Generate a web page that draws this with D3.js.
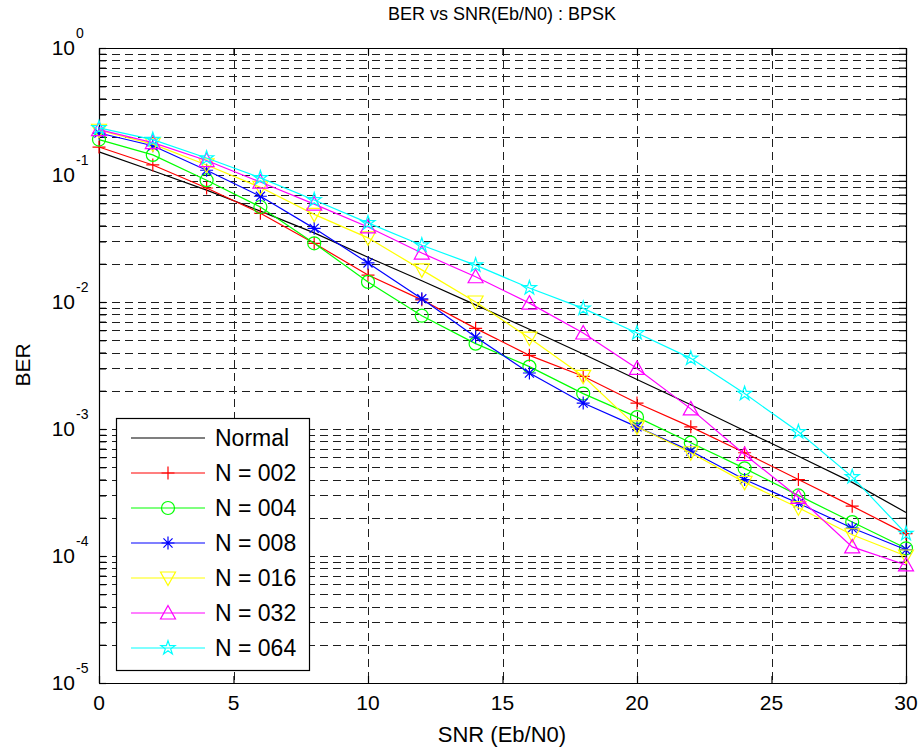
<!DOCTYPE html>
<html>
<head>
<meta charset="utf-8">
<script src="https://cdn.jsdelivr.net/npm/d3@7"></script>
<style>
  body { margin: 0; background: #fff; }
  svg { display: block; font-family: "Liberation Sans", Arial, sans-serif; }
</style>
</head>
<body>
<svg id="chart" width="920" height="748"></svg>
<script>
// values
const snr = [0, 2, 4, 6, 8, 10, 12, 14, 16, 18, 20, 22, 24, 26, 28, 30];
const berNormal = [0.152, 0.108, 0.076, 0.052, 0.035, 0.0225, 0.0147, 0.0095, 0.0061, 0.0039, 0.00245, 0.00155, 0.00097, 0.00061, 0.00038, 0.00022];
const berN002 = [0.166, 0.12, 0.079, 0.05, 0.029, 0.0163, 0.0104, 0.0062, 0.0038, 0.0026, 0.0016, 0.00104, 0.00065, 0.0004, 0.000247, 0.00015];
const berN004 = [0.19, 0.144, 0.091, 0.056, 0.029, 0.0144, 0.0078, 0.0047, 0.0031, 0.0019, 0.00124, 0.00078, 0.00049, 0.0003, 0.000185, 0.000115];
const berN008 = [0.214, 0.17, 0.109, 0.068, 0.038, 0.0203, 0.0106, 0.0053, 0.00276, 0.0016, 0.00104, 0.00067, 0.0004, 0.00026, 0.000166, 0.000112];
const berN016 = [0.225, 0.175, 0.12, 0.08, 0.049, 0.032, 0.0179, 0.01, 0.0052, 0.0026, 0.00104, 0.00065, 0.00038, 0.00024, 0.000147, 0.0001];
const berN032 = [0.228, 0.18, 0.13, 0.088, 0.059, 0.039, 0.0243, 0.0158, 0.0098, 0.0057, 0.003, 0.00144, 0.00063, 0.00029, 0.000118, 0.000085];
const berN064 = [0.235, 0.19, 0.136, 0.095, 0.0636, 0.042, 0.028, 0.0195, 0.0129, 0.0089, 0.0057, 0.0036, 0.0019, 0.00095, 0.00042, 0.00015];

const labels = ['Normal', 'N = 002', 'N = 004', 'N = 008', 'N = 016', 'N = 032', 'N = 064'];
const colors = ['#000000', '#ff0000', '#00ff00', '#0000ff', '#ffff00', '#ff00ff', '#00ffff'];
const markers = ['none', 'plus', 'circle', 'asterisk', 'triDown', 'triUp', 'star'];
const xTicks = [0, 5, 10, 15, 20, 25, 30];
const yDecades = [-5, -4, -3, -2, -1, 0];

const allSeries = [berNormal, berN002, berN004, berN008, berN016, berN032, berN064];

const svg = d3.select('#chart');
const plot = { left: 99, right: 906, top: 48, bottom: 683 };

const x = d3.scaleLinear().domain([0, 30]).range([plot.left, plot.right]);
const y = d3.scaleLog().domain([1e-5, 1]).range([plot.bottom, plot.top]);

// minor + major values for the log grid
const yGridVals = [];
yDecades.slice(0, -1).forEach(e => {
    for (let m = 1; m <= 9; m++) yGridVals.push(m * Math.pow(10, e));
});
yGridVals.push(1);

// grid
const grid = svg.append('g').attr('class', 'grid')
    .attr('stroke', '#1e1e1e').attr('stroke-width', 1).attr('stroke-dasharray', '8,5');
grid.selectAll('.hg')
    .data(yGridVals.filter(v => v > 1e-5 && v < 1))
    .join('line')
    .attr('x1', plot.left).attr('x2', plot.right)
    .attr('y1', d => Math.round(y(d)) + 0.5).attr('y2', d => Math.round(y(d)) + 0.5);
grid.selectAll('.vg')
    .data(xTicks.filter(v => v > 0 && v < 30))
    .join('line')
    .attr('y1', plot.top).attr('y2', plot.bottom)
    .attr('x1', d => Math.round(x(d)) + 0.5).attr('x2', d => Math.round(x(d)) + 0.5);

// axes with inward ticks (box on)
const tick = 7;
const axisStyle = g => {
    g.selectAll('path, line').attr('stroke', '#000').attr('stroke-width', 1.2);
    g.selectAll('text').remove();
};
svg.append('g').attr('transform', `translate(${plot.left},0)`)
    .call(d3.axisLeft(y).tickValues(yGridVals).tickSize(-tick).tickSizeOuter(0).tickFormat(''))
    .call(axisStyle);
svg.append('g').attr('transform', `translate(${plot.right},0)`)
    .call(d3.axisRight(y).tickValues(yGridVals).tickSize(-tick).tickSizeOuter(0).tickFormat(''))
    .call(axisStyle);
svg.append('g').attr('transform', `translate(0,${plot.bottom})`)
    .call(d3.axisBottom(x).tickValues(xTicks).tickSize(-tick).tickSizeOuter(0).tickFormat(''))
    .call(axisStyle);
svg.append('g').attr('transform', `translate(0,${plot.top})`)
    .call(d3.axisTop(x).tickValues(xTicks).tickSize(-tick).tickSizeOuter(0).tickFormat(''))
    .call(axisStyle);

// tick labels
svg.append('g').selectAll('text')
    .data(xTicks)
    .join('text')
    .attr('x', d => x(d)).attr('y', 710)
    .attr('text-anchor', 'middle')
    .attr('font-size', 21)
    .text(d => d);

const yLab = svg.append('g').selectAll('g')
    .data(yDecades)
    .join('g')
    .attr('transform', d => `translate(0,${y(Math.pow(10, d))})`);
yLab.append('text')
    .attr('x', 75).attr('y', 7)
    .attr('text-anchor', 'end')
    .attr('font-size', 21)
    .text('10');
yLab.append('text')
    .attr('x', 76).attr('y', -10)
    .attr('font-size', 14)
    .text(d => d);

// titles
svg.append('text')
    .attr('x', 502).attr('y', 20)
    .attr('text-anchor', 'middle')
    .attr('font-size', 18)
    .text('BER vs SNR(Eb/N0) : BPSK');
svg.append('text')
    .attr('x', 502).attr('y', 742)
    .attr('text-anchor', 'middle')
    .attr('font-size', 22)
    .text('SNR (Eb/N0)');
svg.append('text')
    .attr('transform', 'translate(30,365) rotate(-90)')
    .attr('text-anchor', 'middle')
    .attr('font-size', 21)
    .text('BER');

// marker paths (outline only, like matlab)
const markerPath = (type) => {
    const s = 6.5;
    switch (type) {
        case 'plus': return `M${-s},0H${s}M0,${-s}V${s}`;
        case 'asterisk': {
            const d = s * 0.7;
            return `M${-s},0H${s}M0,${-s}V${s}M${-d},${-d}L${d},${d}M${-d},${d}L${d},${-d}`;
        }
        case 'circle': return d3.symbol(d3.symbolCircle, Math.PI * s * s)();
        case 'triUp': return `M0,${-7.5}L7.5,6L-7.5,6Z`;
        case 'triDown': return `M0,7.5L7.5,-6L-7.5,-6Z`;
        case 'star': return d3.symbol(d3.symbolStar, 62)();
        default: return null;
    }
};

const line = d3.line().x((d, i) => x(snr[i])).y(d => y(d));

const series = svg.append('g').attr('class', 'series');
allSeries.forEach((vals, k) => {
    const g = series.append('g');
    g.append('path')
        .datum(vals)
        .attr('fill', 'none')
        .attr('stroke', colors[k])
        .attr('stroke-width', 1.2)
        .attr('d', line);
    if (markers[k] !== 'none') {
        g.selectAll('path.mk')
            .data(vals)
            .join('path')
            .attr('class', 'mk')
            .attr('transform', (d, i) => `translate(${x(snr[i])},${y(d)})`)
            .attr('d', markerPath(markers[k]))
            .attr('fill', 'none')
            .attr('stroke', colors[k])
            .attr('stroke-width', 1.2);
    }
});

// legend
const legend = svg.append('g').attr('class', 'legend');
legend.append('rect')
    .attr('x', 116.5).attr('y', 418.5)
    .attr('width', 193).attr('height', 252)
    .attr('fill', '#fff').attr('stroke', '#000').attr('stroke-width', 1.2);
const rows = legend.selectAll('g.row')
    .data(labels)
    .join('g')
    .attr('class', 'row')
    .attr('transform', (d, i) => `translate(0,${438 + i * 35})`);
rows.append('line')
    .attr('x1', 131).attr('x2', 205)
    .attr('stroke', (d, i) => colors[i])
    .attr('stroke-width', 1.2);
rows.filter((d, i) => markers[i] !== 'none')
    .append('path')
    .attr('transform', 'translate(168,0)')
    .attr('d', (d) => markerPath(markers[labels.indexOf(d)]))
    .attr('fill', 'none')
    .attr('stroke', d => colors[labels.indexOf(d)])
    .attr('stroke-width', 1.2);
rows.append('text')
    .attr('x', 215).attr('y', 8)
    .attr('font-size', 23)
    .text(d => d);
</script>
</body>
</html>
